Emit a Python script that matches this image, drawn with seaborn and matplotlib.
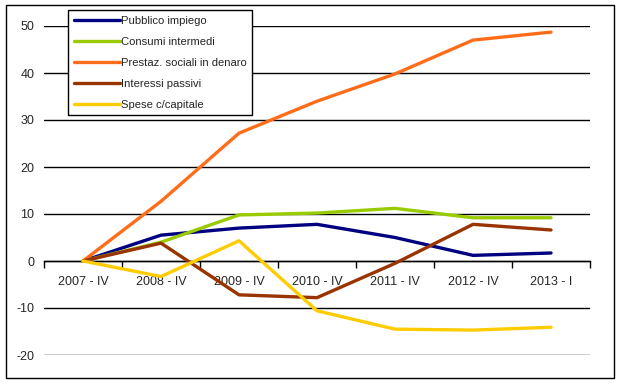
import numpy as np
import pandas as pd
import seaborn as sns
import matplotlib
matplotlib.use("Agg")
import matplotlib.pyplot as plt
from matplotlib.patches import Rectangle

periods = ["2007 - IV", "2008 - IV", "2009 - IV", "2010 - IV", "2011 - IV", "2012 - IV", "2013 - I"]
series_names = ["Pubblico impiego", "Consumi intermedi", "Prestaz. sociali in denaro",
                "Interessi passivi", "Spese c/capitale"]
pubblico = [0, 5.5, 7.0, 7.8, 5.0, 1.2, 1.7]
consumi = [0, 4.0, 9.8, 10.2, 11.2, 9.2, 9.2]
prestaz = [0, 12.7, 27.2, 34.0, 39.8, 47.0, 48.7]
interessi = [0, 3.8, -7.2, -7.8, -0.5, 7.8, 6.6]
spese = [0, -3.3, 4.3, -10.6, -14.5, -14.7, -14.1]
colors = ["#000080", "#99CC00", "#FF6D1A", "#993300", "#FFCC00"]

values = [pubblico, consumi, prestaz, interessi, spese]
rows = []
for name, vals in zip(series_names, values):
    for i, v in enumerate(vals):
        rows.append({"pos": i, "period": periods[i], "value": v, "serie": name})
df = pd.DataFrame(rows)

sns.set_style("white")
plt.rcParams["font.family"] = ["Liberation Sans", "DejaVu Sans"]

fig = plt.figure(figsize=(6.2, 3.84), dpi=100)
ax = fig.add_axes([44/620, 1-355/384, (590-44)/620, (355-26)/384])

sns.lineplot(data=df, x="pos", y="value", hue="serie", hue_order=series_names,
             palette=colors, linewidth=2.4, ax=ax, legend=True, zorder=3)

ax.set_xlim(-0.5, 6.5)
ax.set_ylim(-20, 50)
ax.set_yticks(range(-20, 51, 10))
ax.set_yticklabels([str(v) for v in range(-20, 51, 10)], fontsize=9)
ax.yaxis.grid(True, color="black", linewidth=1)
ax.set_axisbelow(True)
ax.set_xlabel("")
ax.set_ylabel("")
ax.tick_params(axis="y", length=0, pad=7)

for s in ["top", "right", "left"]:
    ax.spines[s].set_visible(False)
ax.spines["bottom"].set_position(("data", 0))
ax.spines["bottom"].set_color("black")
ax.spines["bottom"].set_linewidth(1)

ax.set_xticks(range(len(periods)))
ax.set_xticklabels(periods, fontsize=9)
ax.set_xticks(np.arange(-0.5, 7, 1), minor=True)
ax.tick_params(axis="x", which="major", length=0, pad=11)
ax.tick_params(axis="x", which="minor", length=5, width=1, color="black", direction="out", bottom=True)

leg = ax.legend(loc="upper left", bbox_to_anchor=(68/620, 1-10/384), bbox_transform=fig.transFigure,
                fontsize=8.1, frameon=True, fancybox=False, framealpha=1, edgecolor="black",
                handlelength=4.1, handletextpad=0.1, labelspacing=0.98, borderpad=0.5,
                borderaxespad=0)
leg.get_frame().set_linewidth(1)
for line in leg.get_lines():
    line.set_linewidth(2.4)
leg.set_zorder(5)

fig.patches.append(Rectangle((6/620, 1-378/384), (614-6)/620, (378-5)/384,
                             transform=fig.transFigure, fill=False, edgecolor="black",
                             linewidth=1))

fig.savefig("out.png", dpi=100)
